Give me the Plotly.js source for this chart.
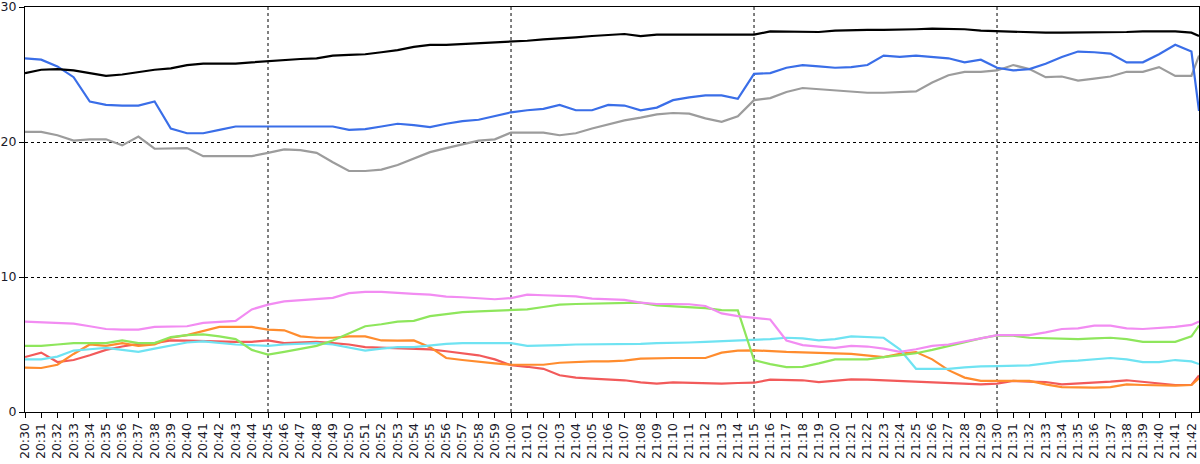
<!DOCTYPE html>
<html>
<head>
<meta charset="utf-8">
<script src="https://cdn.plot.ly/plotly-3.0.1.min.js"></script>
<style>
  html, body { margin: 0; padding: 0; background: #fff; }
  #chart { width: 1200px; height: 464px; }
</style>
</head>
<body>
<div id="chart"></div>
<script>
// one reading per minute, plus the last partial reading at the right edge
var minutes = [
  '20:30','20:31','20:32','20:33','20:34','20:35','20:36','20:37','20:38','20:39',
  '20:40','20:41','20:42','20:43','20:44','20:45','20:46','20:47','20:48','20:49',
  '20:50','20:51','20:52','20:53','20:54','20:55','20:56','20:57','20:58','20:59',
  '21:00','21:01','21:02','21:03','21:04','21:05','21:06','21:07','21:08','21:09',
  '21:10','21:11','21:12','21:13','21:14','21:15','21:16','21:17','21:18','21:19',
  '21:20','21:21','21:22','21:23','21:24','21:25','21:26','21:27','21:28','21:29',
  '21:30','21:31','21:32','21:33','21:34','21:35','21:36','21:37','21:38','21:39',
  '21:40','21:41','21:42','21:42:28'
];

var blackLine = [25.1,25.35,25.4,25.3,25.1,24.9,25.0,25.2,25.35,25.45,
  25.7,25.8,25.8,25.8,25.9,26.0,26.1,26.15,26.2,26.4,
  26.45,26.5,26.65,26.8,27.05,27.2,27.2,27.25,27.3,27.35,
  27.4,27.5,27.6,27.65,27.75,27.85,27.9,28.0,27.85,27.95,
  27.95,27.95,27.95,27.95,27.95,27.95,28.2,28.2,28.15,28.15,
  28.25,28.3,28.3,28.3,28.3,28.35,28.4,28.4,28.35,28.25,
  28.2,28.2,28.15,28.1,28.1,28.1,28.1,28.1,28.15,28.2,
  28.2,28.2,28.1,27.85];

var blueLine = [26.2,26.1,25.6,24.8,23.0,22.75,22.7,22.7,23.0,21.0,
  20.65,20.65,20.9,21.15,21.15,21.15,21.15,21.15,21.15,21.15,
  20.9,20.95,21.15,21.35,21.25,21.1,21.35,21.55,21.65,21.95,
  22.2,22.35,22.45,22.75,22.35,22.35,22.75,22.7,22.35,22.55,
  23.1,23.3,23.45,23.45,23.2,25.05,25.1,25.5,25.7,25.6,
  25.5,25.55,25.7,26.4,26.3,26.4,26.3,26.2,25.9,26.1,
  25.5,25.3,25.4,25.8,26.3,26.7,26.65,26.55,25.9,25.9,
  26.5,27.2,26.7,22.3];

var grayLine = [20.75,20.75,20.5,20.1,20.2,20.2,19.75,20.4,19.5,19.5,
  19.55,18.95,18.95,18.95,18.95,19.2,19.45,19.4,19.2,18.5,
  17.85,17.85,17.95,18.3,18.8,19.25,19.55,19.8,20.1,20.2,
  20.7,20.7,20.7,20.5,20.65,21.0,21.3,21.6,21.8,22.05,
  22.15,22.1,21.75,21.5,21.9,23.1,23.25,23.7,24.0,23.9,
  23.8,23.7,23.65,23.65,23.7,23.75,24.4,24.95,25.2,25.2,
  25.3,25.7,25.4,24.8,24.85,24.55,24.7,24.85,25.2,25.2,
  25.55,24.9,24.9,26.4];

var pinkLine = [6.7,6.65,6.6,6.55,6.35,6.15,6.1,6.1,6.3,6.3,
  6.35,6.6,6.65,6.75,7.6,7.95,8.2,8.3,8.35,8.45,
  8.8,8.9,8.9,8.8,8.75,8.7,8.55,8.5,8.4,8.35,
  8.44,8.7,8.65,8.6,8.57,8.4,8.35,8.3,8.1,8.0,
  8.0,7.98,7.85,7.3,7.1,7.0,6.85,5.3,4.95,4.85,
  4.75,4.9,4.85,4.7,4.45,4.65,4.9,5.0,5.2,5.45,
  5.7,5.7,5.7,5.9,6.15,6.2,6.4,6.4,6.2,6.15,
  6.2,6.3,6.45,6.7];

var greenLine = [4.9,4.9,5.0,5.1,5.1,5.1,5.3,5.1,5.1,5.55,
  5.7,5.75,5.6,5.4,4.6,4.25,4.45,4.65,4.9,5.3,
  5.85,6.35,6.5,6.7,6.75,7.1,7.25,7.4,7.46,7.5,
  7.53,7.6,7.78,7.95,8.0,8.02,8.02,8.05,8.1,7.9,
  7.85,7.8,7.7,7.55,7.53,3.85,3.55,3.33,3.35,3.6,
  3.9,3.9,3.9,4.07,4.2,4.35,4.6,4.9,5.2,5.45,
  5.68,5.65,5.5,5.45,5.4,5.4,5.45,5.5,5.4,5.2,
  5.2,5.2,5.6,6.4];

var cyanLine = [3.9,3.9,4.1,4.55,4.65,4.75,4.6,4.45,4.7,4.95,
  5.15,5.23,5.1,5.0,4.95,4.9,5.0,5.05,5.1,5.0,
  4.8,4.55,4.7,4.8,4.8,4.94,5.05,5.1,5.1,5.1,
  5.1,4.9,4.9,4.95,5.0,5.0,5.0,5.0,5.05,5.1,
  5.1,5.15,5.2,5.25,5.3,5.3,5.4,5.5,5.45,5.3,
  5.4,5.6,5.55,5.5,4.65,3.2,3.2,3.2,3.3,3.38,
  3.4,3.45,3.46,3.6,3.75,3.8,3.9,4.0,3.9,3.7,
  3.7,3.85,3.75,3.55];

var orangeLine = [3.28,3.26,3.5,4.3,5.0,4.9,5.1,4.9,5.0,5.5,
  5.7,6.0,6.3,6.3,6.3,6.1,6.05,5.6,5.5,5.5,
  5.6,5.6,5.3,5.28,5.3,4.8,4.0,3.85,3.7,3.6,
  3.5,3.5,3.5,3.65,3.72,3.75,3.75,3.8,3.95,4.0,
  4.0,4.0,4.0,4.4,4.55,4.57,4.5,4.45,4.42,4.4,
  4.35,4.3,4.2,4.07,4.3,4.44,3.9,3.1,2.55,2.3,
  2.3,2.3,2.3,2.05,1.85,1.82,1.8,1.85,2.05,2.0,
  1.95,1.95,2.0,2.5];

var redLine = [4.07,4.4,3.7,3.85,4.2,4.6,4.85,5.05,5.1,5.3,
  5.28,5.25,5.2,5.19,5.2,5.3,5.1,5.15,5.19,5.1,
  5.0,4.8,4.75,4.7,4.64,4.64,4.5,4.35,4.2,3.9,
  3.46,3.35,3.2,2.72,2.55,2.47,2.4,2.35,2.2,2.1,
  2.2,2.15,2.1,2.1,2.15,2.17,2.4,2.4,2.35,2.22,
  2.3,2.42,2.4,2.35,2.3,2.3,2.25,2.2,2.1,2.05,
  2.1,2.3,2.25,2.22,2.05,2.1,2.17,2.25,2.35,2.25,
  2.1,2.0,2.0,2.7];

var yTicks = [0, 10, 20, 30];
var quarterHours = ['20:45', '21:00', '21:15', '21:30'];

var day = '2020-01-01 ';
var times = minutes.map(m => day + m);

function line(y, color, width) {
  return {
    x: times,
    y: y,
    type: 'scatter',
    mode: 'lines',
    line: { color: color, width: width || 2.2 },
    hoverinfo: 'skip'
  };
}

// drawn bottom first so the order of overlaps matches
var traces = [
  line(redLine, '#f25a5a'),
  line(orangeLine, '#ff8c2e'),
  line(cyanLine, '#6fe3f2'),
  line(greenLine, '#8ee65c'),
  line(pinkLine, '#f28cf2'),
  line(grayLine, '#9c9c9c'),
  line(blueLine, '#3a6ee8'),
  line(blackLine, '#000000')
];

// dashed vertical grid every quarter hour
var gridShapes = quarterHours.map(q => ({
  type: 'line',
  xref: 'x', yref: 'paper',
  x0: day + q, x1: day + q,
  y0: 0, y1: 1,
  layer: 'below',
  line: { color: '#000', width: 1, dash: '3px,3px' }
}));

var layout = {
  width: 1200,
  height: 464,
  margin: { l: 25, r: 1, t: 7, b: 52 },
  paper_bgcolor: '#fff',
  plot_bgcolor: '#fff',
  showlegend: false,
  font: { family: 'DejaVu Sans, Arial, sans-serif', color: '#1a1a2a' },
  shapes: gridShapes,
  xaxis: {
    type: 'date',
    range: [day + '20:30', day + '21:42:28'],
    tick0: day + '20:30',
    dtick: 60000,
    tickformat: '%H:%M',
    tickangle: -90,
    tickfont: { size: 12.5 },
    ticks: 'outside',
    ticklen: 5,
    tickcolor: '#000',
    showgrid: false,
    showline: true,
    linecolor: '#000',
    linewidth: 1,
    mirror: true,
    zeroline: false
  },
  yaxis: {
    range: [0, 30],
    tickvals: yTicks,
    tickfont: { size: 12.5 },
    ticklabeloverflow: 'allow',
    ticks: 'outside',
    ticklen: 5,
    tickcolor: '#000',
    showgrid: true,
    gridcolor: '#000',
    griddash: '3px,3px',
    gridwidth: 1,
    showline: true,
    linecolor: '#000',
    linewidth: 1,
    mirror: true,
    zeroline: false
  }
};

Plotly.newPlot('chart', traces, layout, { displayModeBar: false, staticPlot: true });
</script>
</body>
</html>
